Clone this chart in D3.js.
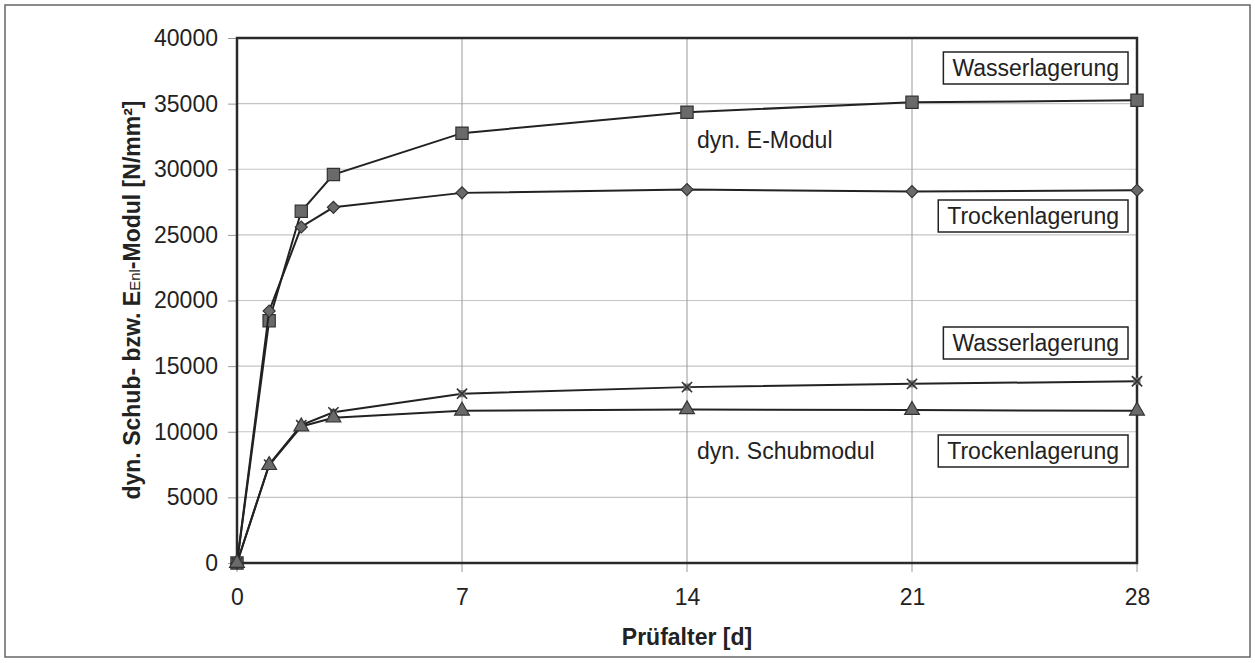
<!DOCTYPE html>
<html>
<head>
<meta charset="utf-8">
<script src="https://cdn.jsdelivr.net/npm/d3@7"></script>
<style>
  body { margin: 0; background: #fff; }
  text { font-family: "Liberation Sans", Arial, sans-serif; fill: #222; }
</style>
</head>
<body>
<svg></svg>
<script>
// Prüfalter in Tagen
var days = [0, 1, 2, 3, 7, 14, 21, 28]
// dyn. E-Modul
var eWasser = [0, 18460, 26800, 29600, 32750, 34350, 35100, 35250]
var eTrocken = [0, 19200, 25600, 27100, 28200, 28450, 28300, 28400]
// dyn. Schubmodul
var gWasser = [0, 7500, 10500, 11480, 12900, 13400, 13650, 13850]
var gTrocken = [0, 7450, 10400, 11070, 11600, 11700, 11650, 11600]

var xTicks = [0, 7, 14, 21, 28]
var yTicks = [0, 5000, 10000, 15000, 20000, 25000, 30000, 35000, 40000]

var width = 1255, height = 663
var pLeft = 237, pRight = 1137, pTop = 38, pBottom = 563

var svg = d3.select("svg")
    .attr("width", width)
    .attr("height", height)

// outer frame
svg.append("rect")
    .attr("x", 5).attr("y", 5)
    .attr("width", 1245).attr("height", 652)
    .attr("fill", "none")
    .attr("stroke", "#666")
    .attr("stroke-width", 1.5)

var x = d3.scaleLinear().domain([0, 28]).range([pLeft, pRight])
var y = d3.scaleLinear().domain([0, 40000]).range([pBottom, pTop])

// gridlines
svg.append("g")
    .selectAll("line")
    .data(yTicks)
    .enter()
    .append("line")
    .attr("x1", pLeft).attr("x2", pRight)
    .attr("y1", (d) => y(d)).attr("y2", (d) => y(d))
    .attr("stroke", "#c4c4c4")
    .attr("stroke-width", 1.2)

svg.append("g")
    .selectAll("line")
    .data(xTicks)
    .enter()
    .append("line")
    .attr("x1", (d) => x(d)).attr("x2", (d) => x(d))
    .attr("y1", pTop).attr("y2", pBottom + 9)
    .attr("stroke", "#999")
    .attr("stroke-width", 1)

// axes
var yAxis = svg.append("g")
    .attr("transform", "translate(" + pLeft + ",0)")
    .call(d3.axisLeft(y).tickValues(yTicks).tickSize(9).tickPadding(10).tickFormat(d3.format("d")))
yAxis.select(".domain").remove()
yAxis.selectAll(".tick line").attr("stroke", "#999")
yAxis.selectAll("text").attr("font-size", 23).attr("fill", "#222")
    .style("font-family", "'Liberation Sans', Arial, sans-serif")

var xAxis = svg.append("g")
    .attr("transform", "translate(0," + pBottom + ")")
    .call(d3.axisBottom(x).tickValues(xTicks).tickSize(0).tickPadding(26))
xAxis.select(".domain").remove()
xAxis.selectAll("text").attr("font-size", 23).attr("fill", "#222")
    .style("font-family", "'Liberation Sans', Arial, sans-serif")

// plot border
svg.append("rect")
    .attr("x", pLeft).attr("y", pTop)
    .attr("width", pRight - pLeft).attr("height", pBottom - pTop)
    .attr("fill", "none")
    .attr("stroke", "#2a2a2a")
    .attr("stroke-width", 2.5)

var series = [
    { values: eWasser, marker: "square" },
    { values: eTrocken, marker: "diamond" },
    { values: gWasser, marker: "star" },
    { values: gTrocken, marker: "triangle" },
]

var line = d3.line()
    .x((d) => x(d[0]))
    .y((d) => y(d[1]))

series.forEach(function (s) {
    var pts = days.map((d, i) => [d, s.values[i]])
    svg.append("path")
        .datum(pts)
        .attr("d", line)
        .attr("fill", "none")
        .attr("stroke", "#222")
        .attr("stroke-width", 2)

    var g = svg.append("g")
        .selectAll("g")
        .data(pts)
        .enter()
        .append("g")
        .attr("transform", (d) => "translate(" + x(d[0]) + "," + y(d[1]) + ")")

    if (s.marker == "square") {
        g.append("path").attr("d", d3.symbol(d3.symbolSquare, 150))
            .attr("fill", "#6a6a6a").attr("stroke", "#333").attr("stroke-width", 1.2)
    } else if (s.marker == "diamond") {
        // square turned by 45 degrees
        g.append("path").attr("d", d3.symbol(d3.symbolSquare, 72))
            .attr("transform", "rotate(45)")
            .attr("fill", "#6a6a6a").attr("stroke", "#333").attr("stroke-width", 1.2)
    } else if (s.marker == "triangle") {
        g.append("path").attr("d", d3.symbol(d3.symbolTriangle, 95))
            .attr("fill", "#6a6a6a").attr("stroke", "#333").attr("stroke-width", 1.2)
    } else {
        g.append("path").attr("d", d3.symbol(d3.symbolSquare, 50))
            .attr("fill", "#777")
        g.append("path").attr("d", d3.symbol(d3.symbolTimes, 70))
            .attr("fill", "none").attr("stroke", "#333").attr("stroke-width", 1.6)
    }
})

// boxed labels
var boxes = [
    { text: "Wasserlagerung", y: 52 },
    { text: "Trockenlagerung", y: 200 },
    { text: "Wasserlagerung", y: 327 },
    { text: "Trockenlagerung", y: 435 },
]
boxes.forEach(function (b) {
    var bg = svg.append("g")
    var r = bg.append("rect")
    var t = bg.append("text")
        .attr("x", 1119).attr("y", b.y + 24)
        .attr("text-anchor", "end")
        .attr("font-size", 23)
        .text(b.text)
    var w = t.node().getComputedTextLength()
    r.attr("x", 1119 - w - 9).attr("y", b.y)
        .attr("width", w + 18).attr("height", 32)
        .attr("fill", "#fff")
        .attr("stroke", "#222")
        .attr("stroke-width", 1.5)
})

svg.append("text")
    .attr("x", 697).attr("y", 148)
    .attr("font-size", 23)
    .text("dyn. E-Modul")

svg.append("text")
    .attr("x", 697).attr("y", 459)
    .attr("font-size", 23)
    .text("dyn. Schubmodul")

// axis titles
svg.append("text")
    .attr("x", (pLeft + pRight) / 2).attr("y", 645)
    .attr("text-anchor", "middle")
    .attr("font-size", 23)
    .attr("font-weight", "bold")
    .text("Prüfalter [d]")

var yt = svg.append("text")
    .attr("transform", "translate(140,300) rotate(-90)")
    .attr("text-anchor", "middle")
    .attr("font-size", 23)
    .attr("font-weight", "bold")
yt.append("tspan").text("dyn. Schub- bzw. E")
yt.append("tspan").attr("font-size", 15).attr("font-weight", "normal").text("Enl")
yt.append("tspan").text("-Modul [N/mm²]")
</script>
</body>
</html>
